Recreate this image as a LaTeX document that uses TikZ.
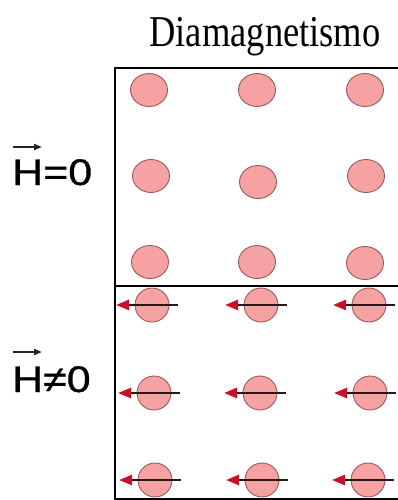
\documentclass[tikz,border=0pt]{standalone}
\usepackage{fontspec}
\setmainfont{Liberation Serif}
\newfontfamily\labelfont[FakeBold=0.8]{Liberation Sans}
\usetikzlibrary{arrows.meta,shapes.geometric}
\definecolor{ballfill}{RGB}{246,162,162}
\definecolor{balledge}{RGB}{150,90,90}
\definecolor{tipred}{RGB}{200,16,40}
\definecolor{shaft}{RGB}{40,25,25}
\tikzset{
  ballA/.style={ellipse,draw=balledge,fill=ballfill,line width=0.9pt,minimum width=37pt,minimum height=33pt,inner sep=0pt},
  ballB/.style={circle,draw=balledge,fill=ballfill,line width=0.9pt,minimum size=34pt,inner sep=0pt},
  moment/.style={draw=shaft,line width=2.6pt,-{Triangle[length=13pt,width=10pt,color=tipred]}},
  frame/.style={draw=black,line width=2.4pt},
  hlabel/.style={font=\labelfont\fontsize{37}{40}\selectfont,inner sep=0pt,anchor=base west,xscale=1.16},
  harrow/.style={draw=black!85,line width=2pt,-{Triangle[length=8pt,width=6pt]}}
}
\begin{document}
\begin{tikzpicture}[x=1pt,y=-1pt]
\useasboundingbox (0,0) rectangle (398,500);
\clip (0,0) rectangle (398,500);
% title
\node[font=\fontsize{44}{48}\selectfont,inner sep=0pt,anchor=base,xscale=0.83] (title) at (265,47) {Diamagnetismo};
% frame
\coordinate (ftl) at (115,68);
\coordinate (fbr) at (410,499);
\coordinate (dl) at (115,286);
\coordinate (dr) at (410,286);
\draw[frame] (ftl) rectangle (fbr);
\draw[frame,line width=2.9pt] (dl) -- (dr);
% top section balls (no field)
\node[ballA] (t11) at (149,90) {};
\node[ballA] (t12) at (257,90) {};
\node[ballA] (t13) at (365,90) {};
\node[ballA] (t21) at (151,176) {};
\node[ballA] (t22) at (258,182) {};
\node[ballA] (t23) at (366,176) {};
\node[ballA] (t31) at (150,262) {};
\node[ballA] (t32) at (257,262) {};
\node[ballA] (t33) at (365,263) {};
% bottom section balls (with field)
\node[ballB] (b11) at (152,305) {};
\node[ballB] (b12) at (261,305) {};
\node[ballB] (b13) at (369,305) {};
\node[ballB] (b21) at (154,393) {};
\node[ballB] (b22) at (260,393) {};
\node[ballB] (b23) at (370,393) {};
\node[ballB] (b31) at (155,480) {};
\node[ballB] (b32) at (262,480) {};
\node[ballB] (b33) at (368,480) {};
% induced moments
\foreach \n/\x/\y in {11/152/305,12/261/305,13/369/305,21/154/393,22/260/393,23/370/393,31/155/480,32/262/480,33/368/480}{
  \coordinate (s\n) at (\x+26,\y);
  \coordinate (e\n) at (\x-36,\y);
  \draw[moment] (s\n) -- (e\n);
}
% labels
\node[hlabel] (h0) at (12,185) {H=0};
\coordinate (h0a) at (13,147);
\coordinate (h0b) at (42,147);
\draw[harrow] (h0a) -- (h0b);
\node[hlabel] (h1) at (12,392) {H≠0};
\coordinate (h1a) at (13,352);
\coordinate (h1b) at (42,352);
\draw[harrow] (h1a) -- (h1b);
\end{tikzpicture}
\end{document}
